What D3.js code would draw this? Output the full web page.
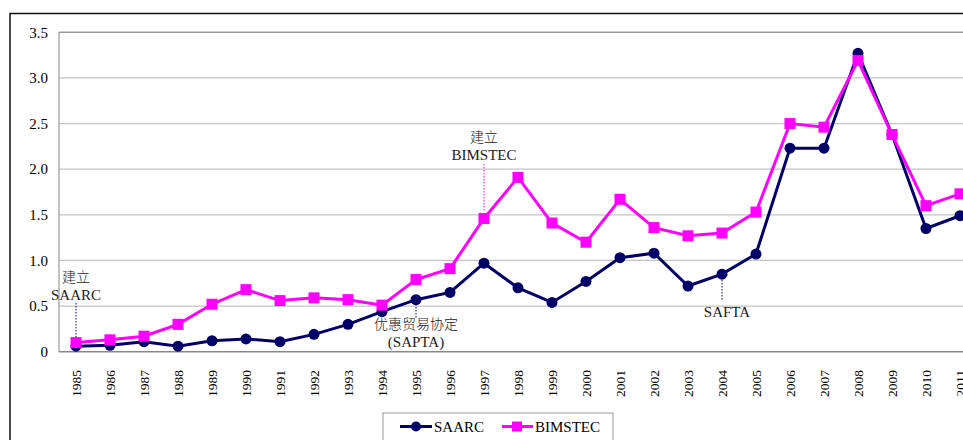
<!DOCTYPE html>
<html>
<head>
<meta charset="utf-8">
<script src="https://cdn.jsdelivr.net/npm/d3@7"></script>
<style>
  body { margin: 0; background: #fff; overflow: hidden; }
</style>
</head>
<body>
<svg width="1000" height="440"></svg>
<script>
// years on the x axis
var years = ["1985","1986","1987","1988","1989","1990","1991","1992","1993","1994","1995","1996","1997","1998",
             "1999","2000","2001","2002","2003","2004","2005","2006","2007","2008","2009","2010","2011"];
var saarc = [0.06,0.07,0.11,0.06,0.12,0.14,0.11,0.19,0.30,0.44,0.57,0.65,0.97,0.70,
             0.54,0.77,1.03,1.08,0.72,0.85,1.07,2.23,2.23,3.27,2.38,1.35,1.49];
var bimstec = [0.10,0.13,0.17,0.30,0.52,0.68,0.56,0.59,0.57,0.51,0.79,0.91,1.46,1.91,
               1.41,1.20,1.67,1.36,1.27,1.30,1.53,2.50,2.46,3.19,2.38,1.60,1.73];
var yTicks = [0, 0.5, 1.0, 1.5, 2.0, 2.5, 3.0, 3.5];

// annotations with dotted leader lines
var notes = [
    {year: "1985", lines: ["建立", "SAARC"], textY: 277, lineTop: 303, lineBot: 342, color: "#000066"},
    {year: "1997", lines: ["建立", "BIMSTEC"], textY: 137, lineTop: 164, lineBot: 212, color: "#ff00ff"},
    {year: "1995", lines: ["优惠贸易协定", "(SAPTA)"], textY: 324, lineTop: 304, lineBot: 318, color: "#000066"},
    {year: "2004", lines: ["SAFTA"], textY: 312, lineTop: 280, lineBot: 301, color: "#000066"}
];

var SERIF = "Liberation Serif";
var CJK = "Noto Sans CJK SC";

var svg = d3.select("svg").attr("font-family", SERIF);

var x = d3.scalePoint().domain(years).range([76, 960]);
var y = d3.scaleLinear().domain([0, 3.5]).range([351.7, 32.3]);
var left = 59;

// outer frame
svg.append("rect")
    .attr("x", 10).attr("y", 13.5)
    .attr("width", 1100).attr("height", 500)
    .attr("fill", "none").attr("stroke", "#111").attr("stroke-width", 1.5);

// grid lines
svg.append("g").selectAll("line")
    .data(yTicks.slice(1))
    .enter().append("line")
    .attr("x1", left).attr("x2", 1000)
    .attr("y1", function(d) { return y(d); })
    .attr("y2", function(d) { return y(d); })
    .attr("stroke", function(d) { return d === 3.5 ? "#999" : "#c4c4c4"; })
    .attr("stroke-width", function(d) { return d === 3.5 ? 1.5 : 1.2; });

// axis lines
svg.append("line").attr("x1", left).attr("x2", left)
    .attr("y1", y(3.5)).attr("y2", y(0)).attr("stroke", "#999").attr("stroke-width", 1.2);
svg.append("line").attr("x1", left).attr("x2", 1000)
    .attr("y1", y(0)).attr("y2", y(0)).attr("stroke", "#888").attr("stroke-width", 1.5);

// y tick labels
svg.append("g").selectAll("text")
    .data(yTicks)
    .enter().append("text")
    .attr("font-family", SERIF)
    .attr("x", 48)
    .attr("y", function(d) { return y(d); })
    .attr("dy", "0.35em")
    .attr("text-anchor", "end")
    .attr("font-size", 15)
    .text(function(d) { return d === 0 ? "0" : d.toFixed(1); });

// x tick labels, rotated
svg.append("g").selectAll("text")
    .data(years)
    .enter().append("text")
    .attr("font-family", SERIF)
    .attr("transform", function(d) { return "translate(" + x(d) + ",370) rotate(-90)"; })
    .attr("dy", "0.35em")
    .attr("text-anchor", "end")
    .attr("font-size", 13.5)
    .text(function(d) { return d; });

// annotations
notes.forEach(function(n) {
    var cx = x(n.year);
    svg.append("line")
        .attr("x1", cx).attr("x2", cx)
        .attr("y1", n.lineTop).attr("y2", n.lineBot)
        .attr("stroke", n.color).attr("stroke-width", 1)
        .attr("stroke-dasharray", "1.5,1.5");
    n.lines.forEach(function(t, i) {
        var isCjk = /[\u4e00-\u9fff]/.test(t);
        svg.append("text")
            .attr("font-family", isCjk ? CJK : SERIF)
            .attr("x", n.year === "2004" ? cx + 5 : cx)
            .attr("y", n.textY + i * 18)
            .attr("dy", "0.35em")
            .attr("text-anchor", "middle")
            .attr("font-size", isCjk ? 14 : 15)
            .attr("font-weight", isCjk ? 300 : null)
            .attr("fill", "#222")
            .text(t);
    });
});

var line = d3.line()
    .x(function(d, i) { return x(years[i]); })
    .y(function(d) { return y(d); });

// SAARC behind, BIMSTEC on top
svg.append("path").datum(saarc)
    .attr("d", line).attr("fill", "none")
    .attr("stroke", "#000066").attr("stroke-width", 3);
svg.append("g").selectAll("circle")
    .data(saarc)
    .enter().append("circle")
    .attr("cx", function(d, i) { return x(years[i]); })
    .attr("cy", function(d) { return y(d); })
    .attr("r", 5.5)
    .attr("fill", "#000066");

svg.append("path").datum(bimstec)
    .attr("d", line).attr("fill", "none")
    .attr("stroke", "#ff00ff").attr("stroke-width", 3);
svg.append("g").selectAll("rect")
    .data(bimstec)
    .enter().append("rect")
    .attr("x", function(d, i) { return x(years[i]) - 5.5; })
    .attr("y", function(d) { return y(d) - 5.5; })
    .attr("width", 11).attr("height", 11)
    .attr("fill", "#ff00ff");

// legend
var lg = svg.append("g");
lg.append("rect")
    .attr("x", 383).attr("y", 413).attr("width", 230).attr("height", 40)
    .attr("fill", "#fff").attr("stroke", "#999").attr("stroke-width", 1);
lg.append("line").attr("x1", 400).attr("x2", 432).attr("y1", 426.5).attr("y2", 426.5)
    .attr("stroke", "#000066").attr("stroke-width", 3);
lg.append("circle").attr("cx", 416).attr("cy", 426.5).attr("r", 5).attr("fill", "#000066");
lg.append("text").attr("font-family", SERIF).attr("x", 434).attr("y", 426.5).attr("dy", "0.35em")
    .attr("font-size", 15).text("SAARC");
lg.append("line").attr("x1", 502).attr("x2", 533).attr("y1", 426.5).attr("y2", 426.5)
    .attr("stroke", "#ff00ff").attr("stroke-width", 3);
lg.append("rect").attr("x", 512).attr("y", 421.5).attr("width", 10).attr("height", 10).attr("fill", "#ff00ff");
lg.append("text").attr("font-family", SERIF).attr("x", 535).attr("y", 426.5).attr("dy", "0.35em")
    .attr("font-size", 15).text("BIMSTEC");
</script>
</body>
</html>
